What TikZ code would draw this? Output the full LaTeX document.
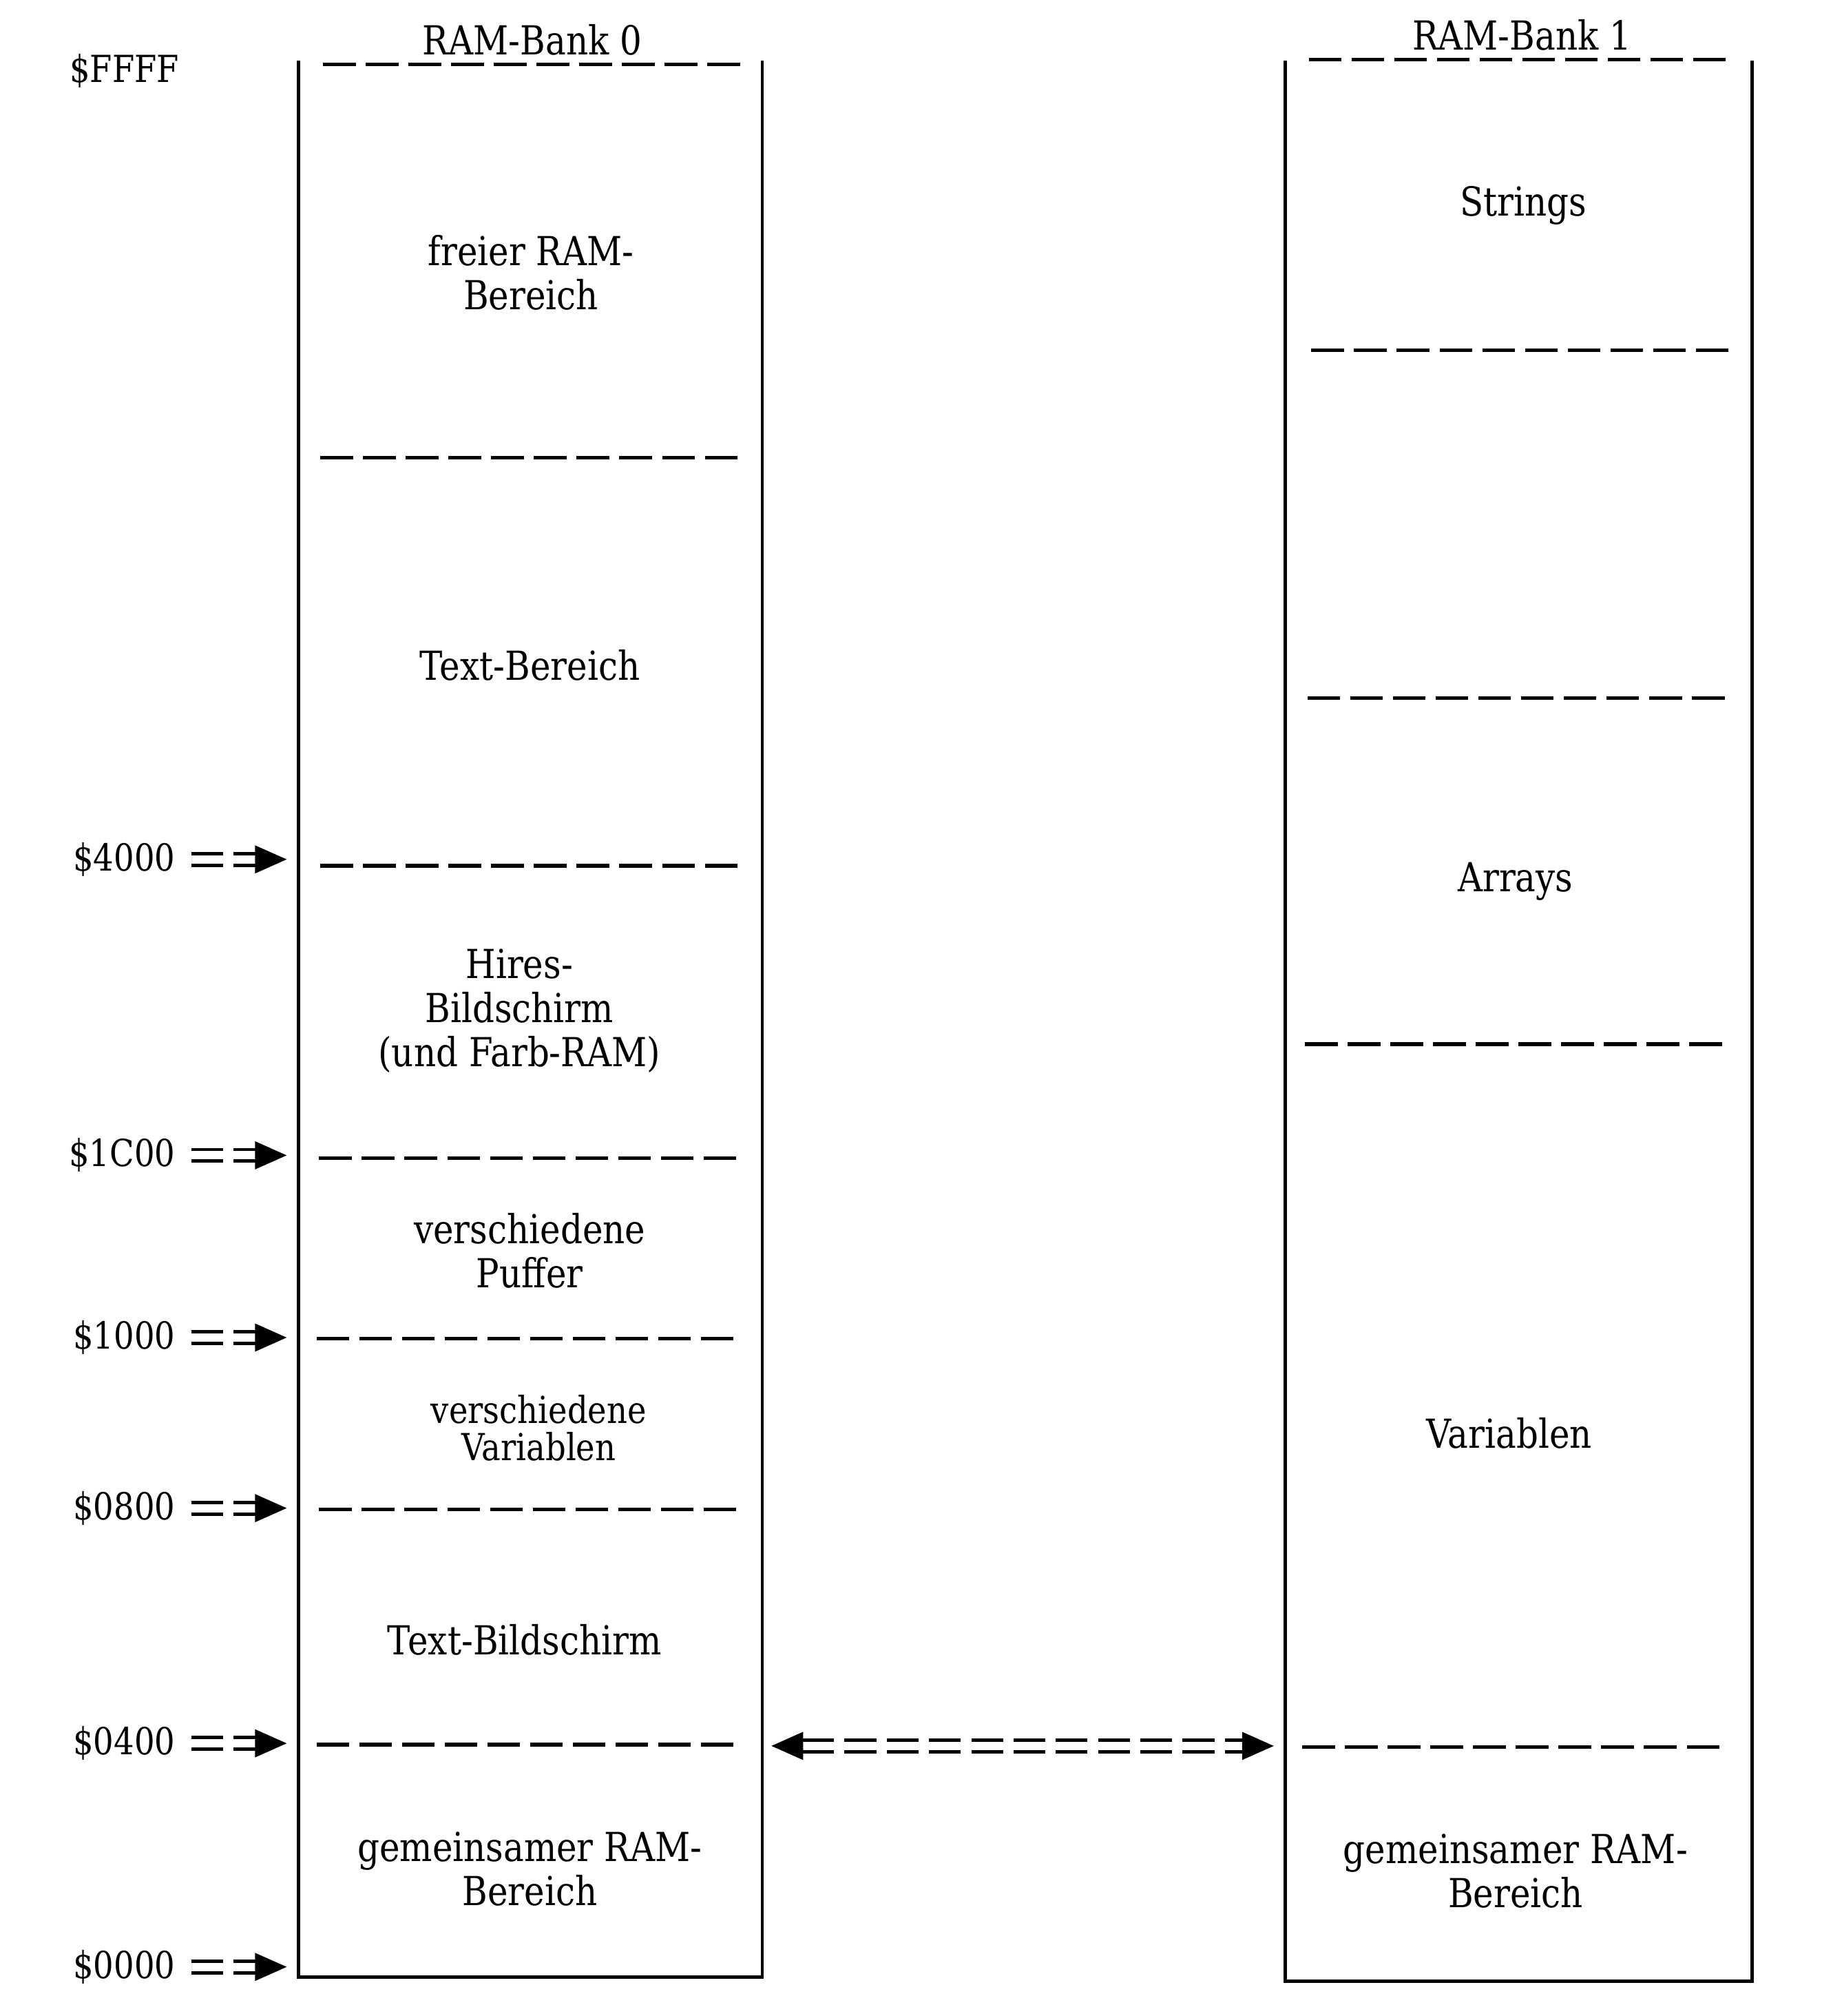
\documentclass[tikz,border=0pt]{standalone}
\usepackage{fontspec}
\setmainfont{DejaVu Serif}[FakeStretch=0.86]
\usetikzlibrary{arrows.meta}

\begin{document}
\begin{tikzpicture} [x=0.01cm, y=-0.01cm,
				bank/.style={
				% The border:
				line width=0.75pt
				},
				sep/.style={
				% The border:
				line width=0.8pt,
				dash pattern=on 7.2pt off 2.2pt
				},
				area/.style={
				% Font
				font=\fontsize{8.8}{9.7}\selectfont
				},
				small area/.style={
				% Font
				font=\fontsize{8.2}{8.3}\selectfont
				},
				addr/.style={
				anchor=east,
				% Font
				font=\fontsize{8.2}{9.7}\selectfont
				},
				move/.style={
				% The line:
				double, double distance=1.8pt, line width=0.75pt,
				dash pattern=on 7pt off 2.3pt,
				% The tip:
				-{Triangle[length=7pt,width=6pt]}
				},
				]
    \tikzstyle{every node} = [align=center]
    \useasboundingbox (0,0) rectangle (1410,1560);
    % the two banks
    \draw [bank] (231,47) -- (231,1530) -- (590,1530) -- (590,47);
    \draw [bank] (995,47) -- (995,1533) -- (1356,1533) -- (1356,47);
    \foreach \y/\a/\b in {50/250/578, 354/248/575, 670/248/575, 896/247/573,
                          1036/245/571, 1168/247/573, 1350/245/571}
        \draw [sep] (\a,\y) -- (\b,\y);
    \foreach \y/\a/\b in {46/1013/1340, 271/1015/1340, 540/1012/1338,
                          808/1010/1336, 1352/1008/1335}
        \draw [sep] (\a,\y) -- (\b,\y);
    \node [area] (bank0) at (412,31) {RAM-Bank 0};
    \node [area] (bank1) at (1178,27) {RAM-Bank 1};
    % bank 0
    \node [area] (free) at (411,211) {freier RAM-\\Bereich};
    \node [area] (textarea) at (410,515) {Text-Bereich};
    \node [area] (hires) at (402,782) {Hires-\\Bildschirm\\(und Farb-RAM)};
    \node [area] (buffers) at (410,968) {verschiedene\\Puffer};
    \node [small area] (vars) at (417,1105) {verschiedene\\Variablen};
    \node [area] (screen) at (406,1269) {Text-Bildschirm};
    \node [area] (shared0) at (410,1446) {gemeinsamer RAM-\\Bereich};
    % bank 1
    \node [area] (strings) at (1179,159) {Strings};
    \node [area] (arrays) at (1173,682) {Arrays};
    \node [area] (variables) at (1168,1109) {Variablen};
    \node [area] (shared1) at (1173,1448) {gemeinsamer RAM-\\Bereich};
    % addresses
    \node [addr] (aFFFF) at (151,55) {\$FFFF};
    \foreach \name/\y in {4000/665, 1C00/894, 1000/1035, 0800/1167, 0400/1349, 0000/1522}
    {
        \node [addr] (a\name) at (148,\y) {\$\name};
        \coordinate (in\name) at (222,\y);
        \draw [move] (a\name) -- (in\name);
    }
    % shared area
    \coordinate (link0) at (597,1351);
    \coordinate (link1) at (986,1351);
    \draw [move, {Triangle[length=7pt,width=6pt]}-{Triangle[length=7pt,width=6pt]}] (link0) -- (link1);
\end{tikzpicture}
\end{document}
